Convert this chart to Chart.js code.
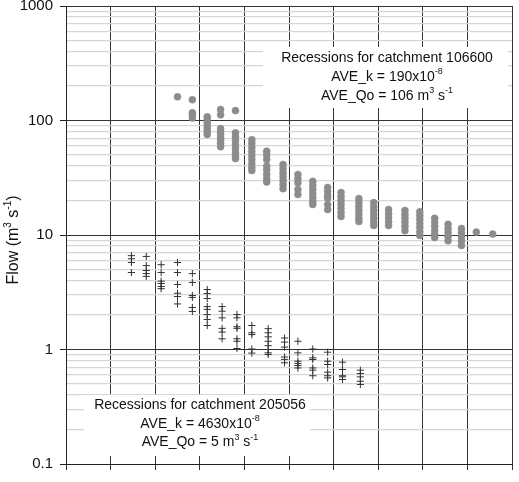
<!DOCTYPE html>
<html>
<head>
<meta charset="utf-8">
<script src="https://cdn.jsdelivr.net/npm/chart.js@4/dist/chart.umd.min.js"></script>
<style>
  html, body { margin: 0; padding: 0; background: #fff; }
  #wrap { width: 519px; height: 482px; }
</style>
</head>
<body>
<div id="wrap"><canvas id="flowChart"></canvas></div>
<script>
// catchment 106600 (grey dots): day of recession and flows on that day
const circleDays = [7.5, 8.5, 9.5, 10.4, 11.4, 12.5, 13.5, 14.6, 15.6, 16.6, 17.6, 18.5,
  19.7, 20.7, 21.7, 22.8, 23.8, 24.8, 25.7, 26.6, 27.6, 28.7];
const circleFlows = [
  [161],
  [152, 117, 111, 105],
  [108, 102, 96, 90.5, 85, 80, 75.5],
  [125, 112, 85, 80, 75.5, 71, 67, 63, 59],
  [122, 78, 72.5, 67, 61.7, 57, 52.5, 49, 46.5],
  [68, 63, 58, 53.5, 49.5, 45.6, 42, 38.8, 36.5],
  [54, 50, 45.6, 40, 37, 33.8, 31, 29],
  [41.3, 38, 35, 32.4, 29.9, 27.6, 25.4],
  [33.8, 31, 28.6, 25, 22.6],
  [29.4, 27, 25, 23, 21.2, 19.6, 18.5],
  [26, 24, 22, 21, 18.5, 16.7],
  [23.5, 21.7, 20, 18.5, 17, 15.7, 14.5],
  [20.8, 19.2, 17.7, 16.4, 15.1, 14, 13.1],
  [19.2, 17.7, 16.4, 15.1, 14, 12.9, 12.1],
  [16.7, 15.4, 14.2, 13.1, 12.1],
  [16.4, 15.1, 14, 12.9, 11.9, 10.9],
  [16, 14.8, 13.7, 12.6, 11.7, 10.7, 9.9],
  [14, 12.9, 11.9, 10.9, 10.1, 9.5],
  [12.4, 11.4, 10.5, 9.7, 8.9],
  [11.4, 10.5, 9.7, 8.9, 8.1],
  [10.6],
  [10.2]
];

// catchment 205056 (crosses)
const crossDays = [4.4, 5.4, 6.4, 7.5, 8.5, 9.5, 10.5, 11.5, 12.5, 13.6, 14.7, 15.6, 16.6, 17.6, 18.6, 19.8];
const crossFlows = [
  [6.6, 6.2, 5.75, 4.7],
  [6.5, 5.4, 4.9, 4.6, 4.35],
  [5.5, 4.7, 3.95, 3.77, 3.55, 3.4],
  [5.75, 4.7, 3.7, 3.1, 2.9, 2.5],
  [4.6, 3.85, 2.96, 2.85, 2.33, 2.15],
  [3.34, 3.08, 2.79, 2.37, 2.24, 2.02, 1.83, 1.62],
  [2.37, 2.16, 1.89, 1.53, 1.42, 1.24],
  [2.02, 1.89, 1.58, 1.53, 1.24, 1.18, 1.02],
  [1.62, 1.40, 1.35, 1.01, 0.93],
  [1.52, 1.40, 1.29, 1.18, 1.08, 1.0, 0.935, 0.905],
  [1.26, 1.16, 1.05, 0.86, 0.82, 0.765],
  [1.18, 0.935, 0.79, 0.755, 0.725, 0.69],
  [1.01, 0.846, 0.818, 0.69, 0.66, 0.59],
  [0.947, 0.79, 0.74, 0.634, 0.59, 0.565],
  [0.775, 0.669, 0.59, 0.577, 0.547],
  [0.66, 0.617, 0.577, 0.528, 0.495]
];

const decades = [0.1, 1, 10, 100, 1000];
const decadeLabels = ['0.1', '1', '10', '100', '1000'];

const FONT = '"Liberation Sans", Arial, Helvetica, sans-serif';

function toPoints(days, flows) {
  const pts = [];
  days.forEach((d, i) => {
    flows[i].forEach(f => pts.push({ x: d, y: f }));
  });
  return pts;
}

function isDecade(v) {
  const l = Math.log10(v);
  return Math.abs(l - Math.round(l)) < 1e-6;
}

// text with superscript pieces: parts = [[text, isSup], ...]
function drawRich(ctx, parts, cx, cy, size) {
  const supSize = Math.round(size * 0.62);
  let total = 0;
  parts.forEach(p => {
    ctx.font = (p[1] ? supSize : size) + 'px ' + FONT;
    total += ctx.measureText(p[0]).width;
  });
  let x = cx - total / 2;
  ctx.textAlign = 'left';
  ctx.textBaseline = 'middle';
  parts.forEach(p => {
    ctx.font = (p[1] ? supSize : size) + 'px ' + FONT;
    ctx.fillText(p[0], x, p[1] ? cy - size * 0.38 : cy);
    x += ctx.measureText(p[0]).width;
  });
}

const notes = [
  { box: [263, 47, 245, 61], cx: 387, lines: [
    [['Recessions for catchment 106600', false]],
    [['AVE_k = 190x10', false], ['-8', true]],
    [['AVE_Qo = 106 m', false], ['3', true], [' s', false], ['-1', true]]
  ], y0: 58.5 },
  { box: [84, 395, 226, 61], cx: 200, lines: [
    [['Recessions for catchment 205056', false]],
    [['AVE_k = 4630x10', false], ['-8', true]],
    [['AVE_Qo = 5 m', false], ['3', true], [' s', false], ['-1', true]]
  ], y0: 405 }
];

const notesPlugin = {
  id: 'notes',
  beforeDatasetsDraw(chart) {
    const ctx = chart.ctx;
    ctx.save();
    notes.forEach(n => {
      ctx.fillStyle = '#fff';
      ctx.fillRect(n.box[0], n.box[1], n.box[2], n.box[3]);
      ctx.fillStyle = '#111';
      n.lines.forEach((line, i) => drawRich(ctx, line, n.cx, n.y0 + i * 18.7, 14));
    });
    ctx.restore();
  },
  afterDraw(chart) {
    const ctx = chart.ctx;
    ctx.save();
    ctx.translate(14, 240);
    ctx.rotate(-Math.PI / 2);
    ctx.fillStyle = '#111';
    drawRich(ctx, [['Flow (m', false], ['3', true], [' s', false], ['-1', true], [')', false]], 0, 0, 16);
    ctx.restore();
  }
};

new Chart(document.getElementById('flowChart'), {
  type: 'scatter',
  data: {
    datasets: [
      {
        label: 'Catchment 106600',
        data: toPoints(circleDays, circleFlows),
        pointStyle: 'circle',
        pointRadius: 3.5,
        backgroundColor: 'rgb(140,140,140)',
        borderColor: 'rgb(140,140,140)',
        borderWidth: 0.5
      },
      {
        label: 'Catchment 205056',
        data: toPoints(crossDays, crossFlows),
        pointStyle: 'cross',
        pointRadius: 3.6,
        borderColor: '#333',
        borderWidth: 1
      }
    ]
  },
  options: {
    responsive: true,
    maintainAspectRatio: false,
    animation: false,
    layout: { padding: { left: 0, right: 7, top: 6, bottom: 0 } },
    plugins: { legend: { display: false }, tooltip: { enabled: false } },
    scales: {
      x: {
        type: 'linear',
        min: 0,
        max: 30,
        ticks: { stepSize: 3, callback: () => '', padding: 0 },
        grid: { color: '#333', lineWidth: 1, tickLength: 6, tickColor: '#333' },
        border: { color: '#222', width: 1 },
        afterFit: scale => { scale.height = 18; scale.paddingLeft = 0; scale.paddingRight = 0; }
      },
      y: {
        type: 'logarithmic',
        min: 0.1,
        max: 1000,
        afterBuildTicks: scale => {
          const t = [];
          for (let k = 0; k < decades.length - 1; k++) {
            for (let m = 1; m <= 9; m++) t.push({ value: m * decades[k] });
          }
          t.push({ value: 1000 });
          scale.ticks = t;
        },
        ticks: {
          autoSkip: false,
          padding: 7,
          color: '#111',
          font: { family: FONT, size: 15 },
          callback: v => {
            const i = decades.findIndex(d => Math.abs(d - v) < d * 1e-6);
            return i >= 0 ? decadeLabels[i] : '';
          }
        },
        grid: {
          color: c => (c.tick && isDecade(c.tick.value)) ? '#333' : '#d6d6d6',
          lineWidth: c => (c.tick && isDecade(c.tick.value)) ? 1 : 1.2,
          tickLength: 6,
          tickColor: c => (c.tick && isDecade(c.tick.value)) ? '#222' : 'rgba(0,0,0,0)'
        },
        border: { color: '#222', width: 1 },
        afterFit: scale => { scale.width = 66; scale.paddingTop = 0; scale.paddingBottom = 0; }
      }
    }
  },
  plugins: [notesPlugin]
});
</script>
</body>
</html>
